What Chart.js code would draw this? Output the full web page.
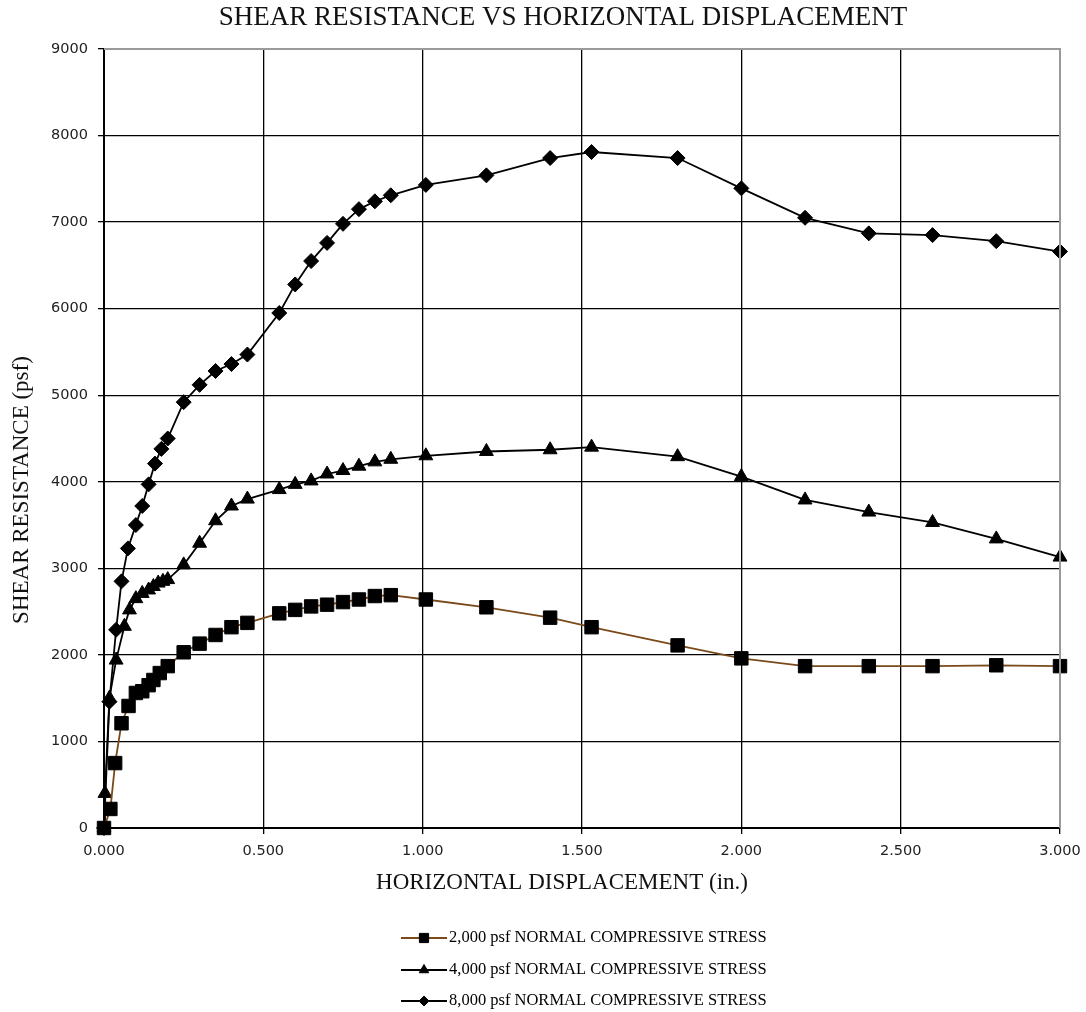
<!DOCTYPE html>
<html>
<head>
<meta charset="utf-8">
<script src="https://cdn.jsdelivr.net/npm/chart.js@4.4.0/dist/chart.umd.min.js"></script>
<style>
body { margin: 0; background: #fff; }
#chart-container { width: 1086px; height: 1012px; }
</style>
</head>
<body>
<div id="chart-container"><canvas id="myChart" width="1086" height="1012"></canvas></div>
<script>
// tick labels
var xTicks = [0, 0.5, 1.0, 1.5, 2.0, 2.5, 3.0]
var yTicks = [0, 1000, 2000, 3000, 4000, 5000, 6000, 7000, 8000, 9000]

// 2,000 psf series
var disp2000 = [0, 0.02, 0.035, 0.055, 0.077, 0.1, 0.12, 0.14, 0.155, 0.175, 0.2, 0.25, 0.3, 0.35, 0.4, 0.45, 0.55, 0.6, 0.65, 0.7, 0.75, 0.8, 0.85, 0.9, 1.01, 1.2, 1.4, 1.53, 1.8, 2.0, 2.2, 2.4, 2.6, 2.8, 3.0]
var shear2000 = [0, 220, 750, 1210, 1410, 1560, 1580, 1650, 1710, 1790, 1870, 2030, 2130, 2230, 2320, 2370, 2480, 2520, 2560, 2580, 2610, 2640, 2680, 2690, 2640, 2550, 2430, 2320, 2110, 1960, 1870, 1870, 1870, 1880, 1870]

// 4,000 psf series
var disp4000 = [0, 0.003, 0.017, 0.038, 0.064, 0.08, 0.1, 0.12, 0.14, 0.155, 0.17, 0.185, 0.2, 0.25, 0.3, 0.35, 0.4, 0.45, 0.55, 0.6, 0.65, 0.7, 0.75, 0.8, 0.85, 0.9, 1.01, 1.2, 1.4, 1.53, 1.8, 2.0, 2.2, 2.4, 2.6, 2.8, 3.0]
var shear4000 = [0, 400, 1500, 1940, 2330, 2520, 2650, 2710, 2750, 2790, 2830, 2850, 2870, 3040, 3290, 3550, 3720, 3800, 3910, 3970, 4010, 4090, 4130, 4180, 4230, 4260, 4300, 4350, 4370, 4400, 4290, 4060, 3790, 3650, 3530, 3340, 3130]

// 8,000 psf series
var disp8000 = [0, 0.017, 0.038, 0.055, 0.075, 0.1, 0.12, 0.14, 0.16, 0.18, 0.2, 0.25, 0.3, 0.35, 0.4, 0.45, 0.55, 0.6, 0.65, 0.7, 0.75, 0.8, 0.85, 0.9, 1.01, 1.2, 1.4, 1.53, 1.8, 2.0, 2.2, 2.4, 2.6, 2.8, 3.0]
var shear8000 = [0, 1460, 2290, 2850, 3230, 3500, 3720, 3970, 4210, 4380, 4500, 4920, 5120, 5280, 5360, 5470, 5950, 6280, 6550, 6760, 6980, 7150, 7240, 7310, 7430, 7540, 7740, 7810, 7740, 7390, 7050, 6870, 6850, 6780, 6660]

var seriesLabels = ['2,000 psf NORMAL COMPRESSIVE STRESS', '4,000 psf NORMAL COMPRESSIVE STRESS', '8,000 psf NORMAL COMPRESSIVE STRESS']

function toPoints(xs, ys){
    return xs.map(function(x, i){ return {x: x, y: ys[i]} })
}

var serif = '"Liberation Serif", "Times New Roman", serif'

// titles, gray frame and stacked legend
var extrasPlugin = {
    id: 'extras',
    afterDraw: function(chart){
        var ctx = chart.ctx
        var area = chart.chartArea
        ctx.save()

        ctx.strokeStyle = '#9a9a9a'
        ctx.lineWidth = 2
        ctx.beginPath()
        ctx.moveTo(area.left, area.top)
        ctx.lineTo(area.right, area.top)
        ctx.lineTo(area.right, area.bottom)
        ctx.stroke()

        ctx.fillStyle = '#111'
        ctx.textAlign = 'center'
        ctx.textBaseline = 'middle'
        ctx.font = '27px ' + serif
        ctx.fillText('SHEAR RESISTANCE VS HORIZONTAL DISPLACEMENT', 563, 18)

        ctx.font = '23px ' + serif
        ctx.fillText('HORIZONTAL DISPLACEMENT (in.)', 562, 883)

        ctx.save()
        ctx.translate(22, 490)
        ctx.rotate(-Math.PI / 2)
        ctx.fillText('SHEAR RESISTANCE (psf)', 0, 0)
        ctx.restore()

        var rows = [938, 970, 1001]
        var legendSize = [6.5, 5.5, 5]
        chart.data.datasets.forEach(function(ds, i){
            var y = rows[i]
            ctx.strokeStyle = ds.borderColor
            ctx.lineWidth = 2.2
            ctx.beginPath()
            ctx.moveTo(401, y)
            ctx.lineTo(447, y)
            ctx.stroke()
            ctx.fillStyle = '#000'
            ctx.strokeStyle = '#000'
            ctx.lineWidth = 1
            Chart.helpers.drawPoint(ctx, {pointStyle: ds.pointStyle, radius: legendSize[i], rotation: 0, borderWidth: 1}, 424, y)
            ctx.fillStyle = '#000'
            ctx.textAlign = 'left'
            ctx.font = '16.5px ' + serif
            ctx.fillText(seriesLabels[i], 449, y)
        })
        ctx.restore()
    }
}

function drawChart(){
    var ctx = document.getElementById('myChart').getContext('2d')
    var myChart = new Chart(ctx, {
        type: 'scatter',
        data: {
            datasets: [{
                label: seriesLabels[0],
                data: toPoints(disp2000, shear2000),
                showLine: true,
                borderColor: '#7b4a1a',
                borderWidth: 1.8,
                pointStyle: 'rect',
                pointRadius: 9.5,
                pointBackgroundColor: '#000',
                pointBorderColor: '#000',
                pointBorderWidth: 1,
                clip: false
            }, {
                label: seriesLabels[1],
                data: toPoints(disp4000, shear4000),
                showLine: true,
                borderColor: '#000',
                borderWidth: 1.8,
                pointStyle: 'triangle',
                pointRadius: 8,
                pointBackgroundColor: '#000',
                pointBorderColor: '#000',
                pointBorderWidth: 1,
                clip: false
            }, {
                label: seriesLabels[2],
                data: toPoints(disp8000, shear8000),
                showLine: true,
                borderColor: '#000',
                borderWidth: 1.8,
                pointStyle: 'rectRot',
                pointRadius: 7.5,
                pointBackgroundColor: '#000',
                pointBorderColor: '#000',
                pointBorderWidth: 1,
                clip: false
            }]
        },
        options: {
            responsive: false,
            animation: false,
            layout: { padding: { top: 49, right: 26, left: 0, bottom: 0 } },
            plugins: {
                legend: { display: false },
                title: { display: false },
                tooltip: { enabled: false }
            },
            scales: {
                x: {
                    type: 'linear',
                    min: 0,
                    max: 3,
                    afterFit: function(scale){
                        scale.height = 184
                        scale.paddingLeft = 0
                        scale.paddingRight = 0
                    },
                    afterBuildTicks: function(scale){
                        scale.ticks = xTicks.map(function(v){ return {value: v} })
                    },
                    ticks: {
                        color: '#222',
                        padding: 9,
                        maxRotation: 0,
                        font: { family: '"DejaVu Sans", sans-serif', size: 14.5 },
                        callback: function(v){ return Number(v).toFixed(3) }
                    },
                    grid: { color: '#000', lineWidth: 1.3, tickLength: 6 },
                    border: { color: '#000', width: 2 }
                },
                y: {
                    type: 'linear',
                    min: 0,
                    max: 9000,
                    afterFit: function(scale){
                        scale.width = 104
                        scale.paddingTop = 0
                        scale.paddingBottom = 0
                    },
                    afterBuildTicks: function(scale){
                        scale.ticks = yTicks.map(function(v){ return {value: v} })
                    },
                    ticks: {
                        color: '#222',
                        padding: 10,
                        font: { family: '"DejaVu Sans", sans-serif', size: 14.5 },
                        callback: function(v){ return String(v) }
                    },
                    grid: { color: '#000', lineWidth: 1.3, tickLength: 6 },
                    border: { color: '#000', width: 2 }
                }
            }
        },
        plugins: [extrasPlugin]
    });
}

document.addEventListener('DOMContentLoaded', drawChart);
</script>
</body>
</html>
